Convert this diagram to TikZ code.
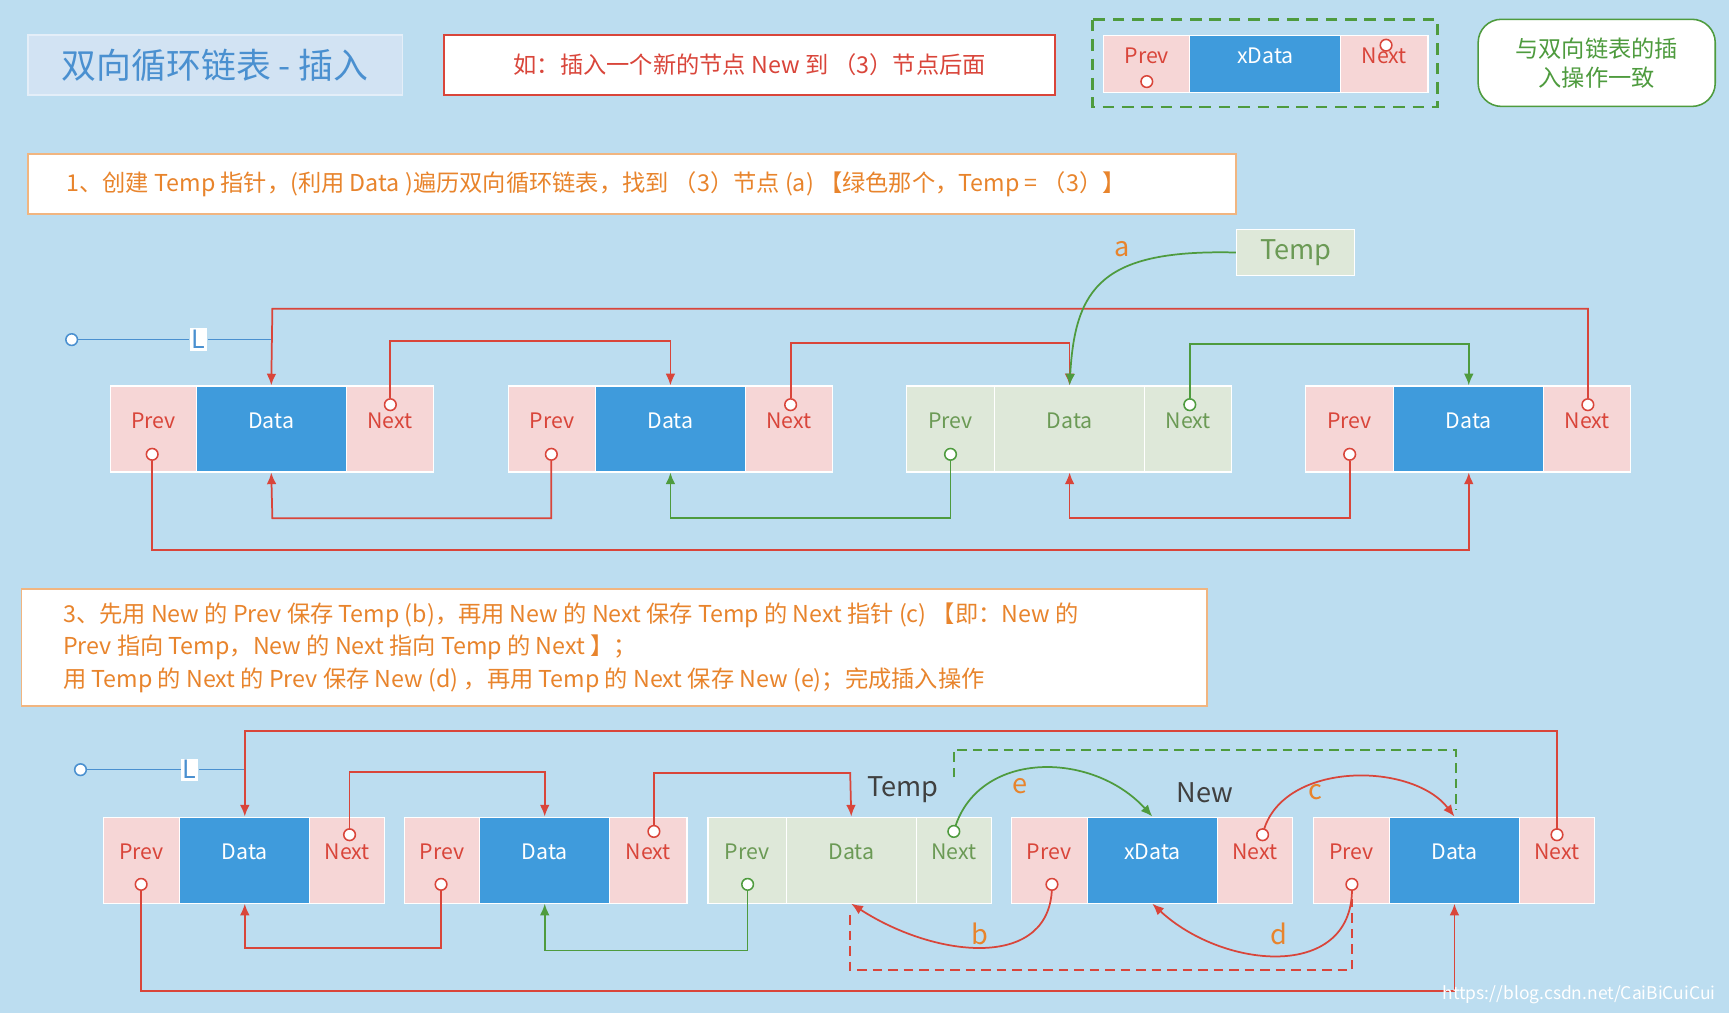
\documentclass[tikz,border=0pt]{standalone}
\usepackage{fontspec}
\setmainfont{Noto Sans CJK SC}
\usetikzlibrary{fit,arrows.meta}
\definecolor{bg}{HTML}{BCDDF0}
\definecolor{pk}{HTML}{F6D6D6}
\definecolor{bl}{HTML}{3F9BDC}
\definecolor{gc}{HTML}{DEE8D9}
\definecolor{rl}{HTML}{D9453A}
\definecolor{gl}{HTML}{4E9B3E}
\definecolor{gt}{HTML}{6B9A55}
\definecolor{og}{HTML}{E8842C}
\definecolor{tb}{HTML}{4A90D0}
\tikzset{
 x=0.02cm,y=-0.02cm,
 cell/.style={inner sep=0,draw=white,line width=0.6pt,font=\fontsize{11}{11}\selectfont},
 pk-side/.style={fill=pk,text=rl}, pk-mid/.style={fill=bl,text=white},
 gr-side/.style={fill=gc,text=gt}, gr-mid/.style={fill=gc,text=gt},
 dot/.style={circle,draw=#1,fill=white,line width=0.8pt,minimum size=6pt,inner sep=0},
 rarr/.style={rl,line width=0.9pt,-{Latex[length=6pt,width=5pt]}},
 garr/.style={gl,line width=0.9pt,-{Latex[length=6pt,width=5pt]}},
 lbl/.style={text=og,font=\fontsize{14}{14}\selectfont},
 txt/.style={text=og,font=\fontsize{12}{12}\selectfont,anchor=west,inner sep=0}
}
\newcommand\lnode[9]{%
 \node[cell,#8-side,fit={(#2,#6)(#3,#7)}] (#1p) {Prev};
 \node[cell,#8-mid,fit={(#3,#6)(#4,#7)}] (#1d) {#9};
 \node[cell,#8-side,fit={(#4,#6)(#5,#7)}] (#1n) {Next};
}
\begin{document}
\begin{tikzpicture}
\fill[bg] (0,0) rectangle (1568,919);
\useasboundingbox (0,0) rectangle (1568,919);
\node[fill=tb!25,draw=tb!15,line width=1pt,minimum width=340*0.02cm,minimum height=54*0.02cm,text=tb,font=\fontsize{18}{18}\selectfont] (title) at (195,59) {双向循环链表 - 插入};
\node[fill=white,draw=rl,line width=1pt,minimum width=554*0.02cm,minimum height=54*0.02cm,text=rl,font=\fontsize{12}{12}\selectfont] (ex) at (680,59) {如：插入一个新的节点 New 到 （3）节点后面};
\draw[gl,line width=1.5pt,dash pattern=on 6pt off 4pt] (991,18) rectangle (1304,97);
\lnode{h}{1001}{1079}{1216}{1295}{32}{84}{pk}{xData}
\node[dot=rl] (hpc) at (1040,74) {};
\node[dot=rl] (hnc) at (1257,41) {};
\node[fill=white,draw=gl,line width=0.8pt,rounded corners=12pt,minimum width=215*0.02cm,minimum height=79*0.02cm,text=gl,align=center,font=\fontsize{12}{15}\selectfont] (same) at (1448,57) {与双向链表的插\\入操作一致};
\node[fill=white,draw=og!60,line width=1pt,minimum width=1096*0.02cm,minimum height=54*0.02cm] (t1) at (573,167) {};
\node[txt] (t1a) at (60,167) {1、创建 Temp 指针，(利用 Data )遍历双向循环链表，找到 （3）节点 (a) 【绿色那个，Temp = （3）】};
\node[fill=white,draw=og!60,line width=1pt,minimum width=1075*0.02cm,minimum height=106*0.02cm] (t2) at (557,587) {};
\node[txt] (t2a) at (57,558) {3、先用 New 的 Prev 保存 Temp (b)，再用 New 的 Next 保存 Temp 的 Next 指针 (c) 【即：New 的};
\node[txt] (t2b) at (57,587) {Prev 指向 Temp，New 的 Next 指向 Temp 的 Next 】；};
\node[txt] (t2c) at (57,617) {用 Temp 的 Next 的 Prev 保存 New (d) ，再用 Temp 的 Next 保存 New (e)；完成插入操作};
% row 1
\lnode{a}{100}{178}{314}{393}{350}{428}{pk}{Data}
\lnode{b}{461}{540}{676}{755}{350}{428}{pk}{Data}
\lnode{c}{822}{902}{1038}{1117}{350}{428}{gr}{Data}
\lnode{d}{1184}{1264}{1400}{1479}{350}{428}{pk}{Data}
\foreach \n/\px/\nx/\cl in {a/138/354/rl,b/500/717/rl,c/862/1079/gl,d/1224/1440/rl}{
 \node[dot=\cl] (\n pc) at (\px,412) {};
 \node[dot=\cl] (\n nc) at (\nx,367) {};
}
\node[fill=gc,draw=white,line width=0.8pt,minimum width=107*0.02cm,minimum height=42*0.02cm,text=gt,font=\fontsize{14}{14}\selectfont] (temp1) at (1175,229) {Temp};
\node[dot=tb] (L1o) at (65,308) {};
\node[fill=white,inner sep=1pt,text=tb,font=\fontsize{13}{13}\selectfont] (L1) at (180,308) {L};
\draw[tb,line width=0.8pt] (L1o) -- (L1) -- (247,308);
\draw[rarr] (dnc.north) |- (247,280) -- (ad.north);
\draw[rarr] (anc.north) |- (608,309) -- (bd.north);
\draw[rarr] (bnc.north) |- (970,311) -- (cd.north);
\draw[garr] (cnc.north) |- (1332,312) -- (dd.north);
\draw[rarr] (bpc.south) |- (247,470) -- (ad.south);
\draw[garr] (cpc.south) |- (608,470) -- (bd.south);
\draw[rarr] (dpc.south) |- (970,470) -- (cd.south);
\draw[rarr] (apc.south) |- (1332,499) -- (dd.south);
\draw[garr] (temp1.west) .. controls (1000,226) and (975,260) .. (cd.north);
\node[lbl] (la) at (1018,226) {a};
% row 2
\lnode{e}{94}{163}{281}{349}{741}{819}{pk}{Data}
\lnode{f}{367}{435}{553}{623}{741}{819}{pk}{Data}
\lnode{g}{642}{713}{831}{899}{741}{819}{gr}{Data}
\lnode{w}{917}{986}{1104}{1172}{741}{819}{pk}{xData}
\lnode{k}{1191}{1260}{1378}{1446}{741}{819}{pk}{Data}
\node[dot=tb] (L2o) at (73,698) {};
\node[fill=white,inner sep=1pt,text=tb,font=\fontsize{13}{13}\selectfont] (L2) at (172,698) {L};
\draw[tb,line width=0.8pt] (L2o) -- (L2) -- (222,698);
\coordinate (knc) at (1412,757); \coordinate (enc) at (317,757);
\coordinate (fnc) at (593,754); \coordinate (gnc) at (865,754);
\coordinate (wnc) at (1145,757);
\coordinate (epc) at (128,802); \coordinate (fpc) at (400,802);
\coordinate (gpc) at (678,802); \coordinate (wpc) at (954,802);
\coordinate (kpc) at (1226,802);
\draw[gl,line width=1pt,dash pattern=on 5pt off 3pt] (865,705) -- (865,680) -- (1320,680) -- (1320,735);
\draw[rl,line width=1pt,dash pattern=on 5pt off 3pt] (771,830) -- (771,880) -- (1226,880) -- (1226,815);
\draw[rarr] (knc) |- (222,663) -- (ed.north);
\draw[rarr] (enc) |- (494,700) -- (fd.north);
\draw[rarr] (fnc) |- (771,701) -- (gd.north);
\draw[rarr] (fpc) |- (222,860) -- (ed.south);
\draw[garr] (gpc) |- (494,862) -- (fd.south);
\draw[rarr] (epc) |- (1319,899) -- (kd.south);
\draw[garr] (gnc) .. controls (885,680) and (990,680) .. (wd.north);
\draw[rarr] (wnc) .. controls (1160,690) and (1280,690) .. (kd.north);
\draw[rarr] (wpc) .. controls (955,880) and (850,870) .. (gd.south);
\draw[rarr] (kpc) .. controls (1230,890) and (1110,880) .. (wd.south);
\foreach \c/\cl in {knc/rl,enc/rl,fnc/rl,gnc/gl,wnc/rl,epc/rl,fpc/rl,gpc/gl,wpc/rl,kpc/rl}
 \node[dot=\cl] at (\c) {};
\node[text=black!75,font=\fontsize{14}{14}\selectfont] (tp2) at (819,716) {Temp};
\node[text=black!75,font=\fontsize{14}{14}\selectfont] (nw2) at (1093,719) {New};
\node[lbl] (le) at (925,713) {e};
\node[lbl] (lc) at (1193,718) {c};
\node[lbl] (lb) at (889,847) {b};
\node[lbl] (ld) at (1160,847) {d};
\node[text=white,font=\fontsize{9}{9}\selectfont,anchor=east] (wm) at (1562,902) {https://blog.csdn.net/CaiBiCuiCui};
\end{tikzpicture}
\end{document}
